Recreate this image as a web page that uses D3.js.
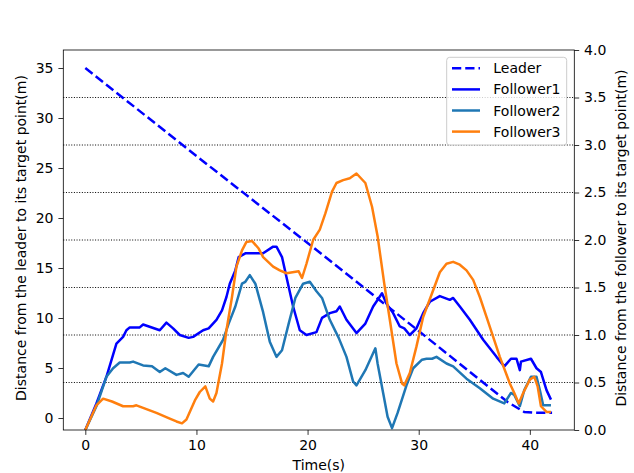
<!DOCTYPE html>
<html>
<head>
<meta charset="utf-8">
<script src="https://cdn.jsdelivr.net/npm/d3@7"></script>
<style>
  body { margin: 0; background: #fff; }
  svg text { font-family: "DejaVu Sans", sans-serif; font-size: 14px; fill: #000; }
</style>
</head>
<body>
<script>
// Leader distance (left axis, m)
var leaderTime = [0, 10, 20, 30, 38, 39.5, 40.5, 42];
var leaderDist = [35, 26.2, 17.5, 8.7, 1.6, 0.6, 0.52, 0.52];

// Follower distances (right axis, m)
var f1Time = [0, 1.0, 1.9, 2.8, 3.4, 3.7, 4.0, 4.9, 5.2, 6.7, 7.3, 7.9, 8.5, 9.3, 9.7, 10.6, 11.1, 11.8, 12.3, 12.7,
  13.0, 13.5, 13.8, 14.4, 15.7, 16.0, 16.9, 17.2, 17.7, 18.1, 18.7, 19.3, 19.9, 20.8, 21.3, 22.0, 22.6, 22.9, 23.5,
  24.4, 25.2, 25.9, 26.7, 27.1, 27.7, 28.3, 28.7, 29.2, 29.8, 30.4, 31.0, 31.9, 32.8, 33.1, 33.7, 34.6, 35.8, 37.0,
  37.7, 38.3, 38.8, 39.1, 39.2, 40.1, 40.6, 41.0, 41.5, 41.9];
var f1Dist = [0, 0.28, 0.56, 0.91, 0.98, 1.05, 1.08, 1.08, 1.11, 1.05, 1.13, 1.07, 1.00, 0.97, 0.98, 1.05, 1.07, 1.16, 1.26, 1.40,
  1.54, 1.68, 1.82, 1.86, 1.86, 1.86, 1.93, 1.93, 1.82, 1.61, 1.30, 1.05, 1.00, 1.03, 1.18, 1.23, 1.25, 1.30, 1.16,
  1.02, 1.12, 1.30, 1.44, 1.33, 1.23, 1.09, 1.07, 1.00, 1.07, 1.23, 1.35, 1.41, 1.37, 1.39, 1.30, 1.16, 0.95, 0.77,
  0.67, 0.75, 0.75, 0.63, 0.72, 0.75, 0.65, 0.61, 0.42, 0.32];

var f2Time = [0, 1.0, 1.9, 2.5, 3.1, 4.0, 4.3, 5.2, 6.0, 6.7, 7.2, 8.2, 8.8, 9.3, 10.2, 11.1, 11.5, 12.4, 12.9, 13.5,
  14.1, 14.4, 14.8, 15.3, 16.0, 16.6, 17.2, 17.7, 18.3, 18.9, 19.6, 20.2, 20.8, 21.3, 22.0, 22.8, 23.5, 24.1, 24.4,
  25.2, 26.1, 26.3, 26.8, 27.2, 27.6, 28.1, 28.9, 29.5, 30.3, 30.7, 31.2, 31.6, 32.5, 33.1, 34.3, 35.5, 36.7, 37.7,
  38.3, 38.6, 39.1, 39.5, 40.1, 40.6, 40.9, 41.2, 41.9];
var f2Dist = [0, 0.25, 0.56, 0.65, 0.71, 0.71, 0.72, 0.68, 0.67, 0.61, 0.65, 0.58, 0.60, 0.56, 0.69, 0.67, 0.77, 0.95, 1.12, 1.30,
  1.54, 1.56, 1.63, 1.54, 1.24, 0.93, 0.77, 0.84, 1.12, 1.39, 1.54, 1.56, 1.46, 1.39, 1.16, 0.97, 0.77, 0.51, 0.47,
  0.63, 0.86, 0.70, 0.39, 0.14, 0.02, 0.18, 0.47, 0.65, 0.74, 0.75, 0.75, 0.77, 0.70, 0.67, 0.54, 0.44, 0.33, 0.28,
  0.39, 0.37, 0.25, 0.42, 0.56, 0.56, 0.42, 0.26, 0.26];

var f3Time = [0, 1.0, 1.6, 2.4, 3.4, 4.3, 4.6, 5.5, 6.4, 7.6, 8.2, 8.7, 9.1, 9.9, 10.3, 10.8, 11.2, 11.5, 11.8, 12.3,
  12.7, 13.2, 13.6, 14.1, 14.5, 15.0, 15.6, 16.0, 16.9, 17.5, 18.1, 19.2, 19.5, 19.9, 20.5, 21.1, 21.6, 22.2, 22.6,
  23.2, 23.8, 24.4, 25.2, 25.8, 26.3, 26.9, 27.4, 28.0, 28.5, 28.7, 29.2, 29.8, 30.4, 31.2, 31.9, 32.5, 33.1, 33.7,
  34.3, 34.9, 35.5, 36.1, 36.7, 37.3, 38.2, 38.6, 39.0, 39.4, 40.0, 40.4, 40.7, 41.0, 41.5, 41.9];
var f3Dist = [0, 0.26, 0.33, 0.30, 0.25, 0.25, 0.26, 0.22, 0.18, 0.12, 0.09, 0.07, 0.11, 0.32, 0.40, 0.46, 0.33, 0.30, 0.39, 0.70,
  1.05, 1.40, 1.72, 1.89, 1.98, 1.99, 1.91, 1.82, 1.72, 1.68, 1.65, 1.67, 1.60, 1.75, 2.00, 2.11, 2.28, 2.51, 2.60,
  2.63, 2.65, 2.70, 2.60, 2.35, 2.04, 1.54, 1.16, 0.70, 0.49, 0.47, 0.60, 0.88, 1.19, 1.44, 1.66, 1.75, 1.77, 1.74,
  1.68, 1.58, 1.40, 1.19, 0.98, 0.77, 0.49, 0.39, 0.28, 0.39, 0.53, 0.56, 0.46, 0.25, 0.19, 0.19];

var xTicks = [0, 10, 20, 30, 40];
var leftTicks = [0, 5, 10, 15, 20, 25, 30, 35];
var rightTicks = [0, 0.5, 1.0, 1.5, 2.0, 2.5, 3.0, 3.5, 4.0];
var legendNames = ["Leader", "Follower1", "Follower2", "Follower3"];
var legendColors = ["#0000ff", "#0000ff", "#1f77b4", "#ff7f0e"];

drawChart();

function drawChart(){
  var width = 634, height = 473;
  // plot frame in pixels
  var pLeft = 63.3, pRight = 574.3, pTop = 50, pBottom = 430;

  var svg = d3.select("body").append("svg")
    .attr("width", width)
    .attr("height", height);

  var x = d3.scaleLinear().domain([-1.98, 44.0]).range([pLeft, pRight]);
  var yL = d3.scaleLinear().domain([-1.2, 36.8]).range([pBottom, pTop]);
  var yR = d3.scaleLinear().domain([0, 4]).range([pBottom, pTop]);

  // dotted grid from right axis
  svg.append("g").selectAll("line")
    .data(rightTicks.filter(function(d){ return d > 0 && d < 4; }))
    .enter().append("line")
    .attr("x1", pLeft).attr("x2", pRight)
    .attr("y1", function(d){ return yR(d); })
    .attr("y2", function(d){ return yR(d); })
    .attr("stroke", "#000")
    .attr("stroke-width", 1)
    .attr("stroke-dasharray", "1,1.65");

  svg.append("clipPath").attr("id", "plot")
    .append("rect").attr("x", pLeft).attr("y", pTop)
    .attr("width", pRight - pLeft).attr("height", pBottom - pTop);

  var lineL = d3.line().x(function(d){ return x(d[0]); }).y(function(d){ return yL(d[1]); });
  var lineR = d3.line().x(function(d){ return x(d[0]); }).y(function(d){ return yR(d[1]); });

  var plot = svg.append("g").attr("clip-path", "url(#plot)");

  function drawRight(times, vals, color){
    plot.append("path")
      .datum(d3.zip(times, vals))
      .attr("d", lineR)
      .attr("fill", "none")
      .attr("stroke", color)
      .attr("stroke-width", 2.5)
      .attr("stroke-linejoin", "round");
  }

  plot.append("path")
    .datum(d3.zip(leaderTime, leaderDist))
    .attr("d", lineL)
    .attr("fill", "none")
    .attr("stroke", legendColors[0])
    .attr("stroke-width", 2.5)
    .attr("stroke-dasharray", "9.25,4");

  drawRight(f1Time, f1Dist, legendColors[1]);
  drawRight(f2Time, f2Dist, legendColors[2]);
  drawRight(f3Time, f3Dist, legendColors[3]);

  // axes
  var xAxis = svg.append("g").attr("transform", "translate(0," + pBottom + ")")
    .call(d3.axisBottom(x).tickValues(xTicks).tickSize(4.9).tickPadding(4.9).tickFormat(d3.format("d")));
  var lAxis = svg.append("g").attr("transform", "translate(" + pLeft + ",0)")
    .call(d3.axisLeft(yL).tickValues(leftTicks).tickSize(4.9).tickPadding(4.9).tickFormat(d3.format("d")));
  var rAxis = svg.append("g").attr("transform", "translate(" + pRight + ",0)")
    .call(d3.axisRight(yR).tickValues(rightTicks).tickSize(4.9).tickPadding(4.9).tickFormat(d3.format(".1f")));

  [xAxis, lAxis, rAxis].forEach(function(a){
    a.select(".domain").remove();
    a.selectAll("line").attr("stroke", "#000").attr("stroke-width", 0.8);
    a.attr("font-size", null).attr("font-family", null);
  });

  // frame
  svg.append("rect")
    .attr("x", pLeft).attr("y", pTop)
    .attr("width", pRight - pLeft).attr("height", pBottom - pTop)
    .attr("fill", "none").attr("stroke", "#000").attr("stroke-width", 0.8);

  // labels
  svg.append("text")
    .attr("x", (pLeft + pRight) / 2).attr("y", 470)
    .attr("text-anchor", "middle")
    .text("Time(s)");

  svg.append("text")
    .attr("transform", "translate(25.5,238) rotate(-90)")
    .attr("text-anchor", "middle")
    .text("Distance from the leader to its target point(m)");

  svg.append("text")
    .attr("transform", "translate(625.5,238) rotate(-90)")
    .attr("text-anchor", "middle")
    .text("Distance from the follower to its target point(m)");

  // legend
  var legend = svg.append("g");
  legend.append("rect")
    .attr("x", 446.7).attr("y", 57.3)
    .attr("width", 120).attr("height", 87.7)
    .attr("rx", 3).attr("ry", 3)
    .attr("fill", "#fff").attr("fill-opacity", 0.8)
    .attr("stroke", "#cccccc").attr("stroke-width", 1);

  var items = legend.selectAll("g.item")
    .data(legendNames)
    .enter().append("g")
    .attr("class", "item")
    .attr("transform", function(d, i){ return "translate(0," + (68.3 + i * 21.1) + ")"; });

  items.append("line")
    .attr("x1", 452).attr("x2", 480)
    .attr("y1", 0).attr("y2", 0)
    .attr("stroke", function(d, i){ return legendColors[i]; })
    .attr("stroke-width", 2.5)
    .attr("stroke-dasharray", function(d, i){ return i === 0 ? "9.25,4" : null; });

  items.append("text")
    .attr("x", 493.3).attr("y", 5)
    .text(function(d){ return d; });
}
</script>
</body>
</html>
